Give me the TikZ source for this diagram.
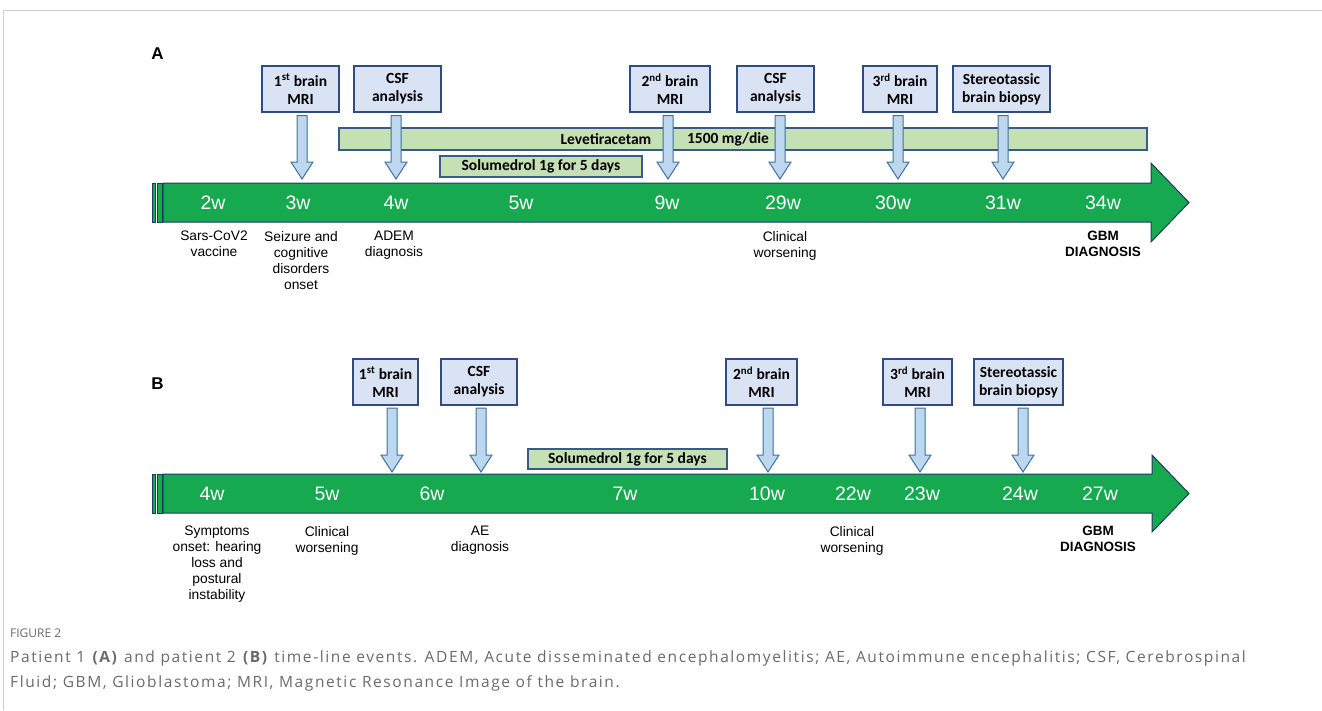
\documentclass[tikz,border=0pt]{standalone}
\usepackage{fontspec}
\setmainfont{Liberation Sans}
\newfontfamily\calfont{Carlito}
\newfontfamily\capfont{Open Sans}
\usetikzlibrary{calc}
\definecolor{tlgreen}{HTML}{17A950}
\definecolor{tlline}{HTML}{203864}
\definecolor{boxfill}{HTML}{DAE3F3}
\definecolor{boxline}{HTML}{2F4B80}
\definecolor{arrfill}{HTML}{BDD7EE}
\definecolor{arrline}{HTML}{41719C}
\definecolor{barfill}{HTML}{C5E0B4}
\definecolor{barline}{HTML}{3A5A8A}
\definecolor{capgrey}{HTML}{6A6A6A}
\definecolor{framegrey}{HTML}{CFCFCF}
\begin{document}
\begin{tikzpicture}[x=1pt,y=-1pt,
  evbox/.style={draw=boxline, fill=boxfill, line width=1.2pt, inner sep=0pt,
    minimum height=46pt, align=center,
    font=\calfont\bfseries\fontsize{15.5}{18}\selectfont},
  drugbar/.style={draw=barline, fill=barfill, line width=1.1pt, inner sep=0pt},
  drugtext/.style={inner sep=0pt, font=\calfont\bfseries\fontsize{15.5}{18}\selectfont},
  wk/.style={text=white, inner sep=0pt, font=\fontsize{19.5}{21}\selectfont},
  ev/.style={anchor=north, align=center, inner sep=0pt, font=\fontsize{13.8}{16}\selectfont},
  evb/.style={ev, font=\bfseries\fontsize{13.5}{16}\selectfont},
  panel/.style={inner sep=0pt, font=\bfseries\fontsize{17}{18}\selectfont},
  timeline/.style={draw=tlline, fill=tlgreen, line width=1pt, line join=miter},
  barrow/.style={draw=arrline, fill=arrfill, line width=1pt, line join=miter},
  blockdown/.style={to path={let \p1=(\tikztostart), \p2=(\tikztotarget) in
    (\x2-5pt,\y1-#1) -- (\x2+5pt,\y1-#1) -- (\x2+5pt,\y2+17pt) -- (\x2+11pt,\y2+17pt)
    -- (\x2,\y2) -- (\x2-11pt,\y2+17pt) -- (\x2-5pt,\y2+17pt) -- cycle}},
  blockdown/.default=3pt
]
\useasboundingbox (0,0) rectangle (1322,710);
% frame
\draw[framegrey, line width=1pt] (3.5,710) -- (3.5,10.5) -- (1322,10.5);

% ================= Panel A =================
\node[panel] (pA) at (157.5,53.5) {A};

% timeline A
\draw[timeline] (152,183) rectangle (155,222);
\draw[timeline] (157.5,183) rectangle (162,222);
\draw[timeline] (163,183) -- (1151,183) -- (1151,163) -- (1189,202.5)
  -- (1151,242) -- (1151,222) -- (163,222) -- cycle;

% drug bars A
\node[drugbar, minimum width=808pt, minimum height=22pt] (levA) at (743,139) {};
\node[drugtext] (levAt) at (606,139) {Levetiracetam};
\node[drugtext] (levAd) at (728,139) {1500 mg/die};
\node[drugbar, minimum width=202pt, minimum height=21pt, drugtext] (solA) at (541,166.5) {Solumedrol 1g for 5 days};

% event boxes A
\node[evbox, minimum width=77pt] (a1) at (300.5,89) {1\textsuperscript{st} brain\\MRI};
\node[evbox, minimum width=87pt] (a2) at (397.5,89) {CSF\\analysis};
\node[evbox, minimum width=80pt] (a3) at (670,89) {2\textsuperscript{nd} brain\\MRI};
\node[evbox, minimum width=77pt] (a4) at (775.5,89) {CSF\\analysis};
\node[evbox, minimum width=74pt] (a5) at (900,89) {3\textsuperscript{rd} brain\\MRI};
\node[evbox, minimum width=97pt] (a6) at (1001.5,89) {Stereotassic\\brain biopsy};

\coordinate (tA1) at (302,179);
\coordinate (tA2) at (396,179);
\coordinate (tA3) at (668,179);
\coordinate (tA4) at (780,179);
\coordinate (tA5) at (898,179);
\coordinate (tA6) at (1003,179);
\draw[barrow] (a1.south) to[blockdown] (tA1);
\draw[barrow] (a2.south) to[blockdown] (tA2);
\draw[barrow] (a3.south) to[blockdown] (tA3);
\draw[barrow] (a4.south) to[blockdown] (tA4);
\draw[barrow] (a5.south) to[blockdown] (tA5);
\draw[barrow] (a6.south) to[blockdown] (tA6);

% weeks A
\node[wk] (wA1) at (213,202.5) {2w};
\node[wk] (wA2) at (298,202.5) {3w};
\node[wk] (wA3) at (396,202.5) {4w};
\node[wk] (wA4) at (521,202.5) {5w};
\node[wk] (wA5) at (667,202.5) {9w};
\node[wk] (wA6) at (783,202.5) {29w};
\node[wk] (wA7) at (893,202.5) {30w};
\node[wk] (wA8) at (1003,202.5) {31w};
\node[wk] (wA9) at (1103,202.5) {34w};

% events A
\node[ev] (eA1) at (214,231) {Sars-CoV2\\vaccine};
\node[ev] (eA2) at (301,231) {Seizure and\\cognitive\\disorders\\onset};
\node[ev] (eA3) at (394,231) {ADEM\\diagnosis};
\node[ev] (eA4) at (785,231) {Clinical\\worsening};
\node[evb] (eA5) at (1103,231) {GBM\\DIAGNOSIS};

% ================= Panel B =================
\node[panel] (pB) at (157.5,384) {B};

\draw[timeline] (152,474) rectangle (155,513);
\draw[timeline] (157.5,474) rectangle (162,513);
\draw[timeline] (163,474) -- (1152,474) -- (1152,455) -- (1189,493.5)
  -- (1152,532) -- (1152,513) -- (163,513) -- cycle;

\node[drugbar, minimum width=199pt, minimum height=20pt, drugtext] (solB) at (627.5,459) {Solumedrol 1g for 5 days};

\node[evbox, minimum width=65pt] (b1) at (385.5,382) {1\textsuperscript{st} brain\\MRI};
\node[evbox, minimum width=76pt] (b2) at (479,382) {CSF\\analysis};
\node[evbox, minimum width=71pt] (b3) at (761.5,382) {2\textsuperscript{nd} brain\\MRI};
\node[evbox, minimum width=69pt] (b4) at (917.5,382) {3\textsuperscript{rd} brain\\MRI};
\node[evbox, minimum width=89pt] (b5) at (1018.5,382) {Stereotassic\\brain biopsy};

\coordinate (tB1) at (392,472);
\coordinate (tB2) at (481,472);
\coordinate (tB3) at (768,472);
\coordinate (tB4) at (920,472);
\coordinate (tB5) at (1023,472);
\draw[barrow] (b1.south) to[blockdown=2.5pt] (tB1);
\draw[barrow] (b2.south) to[blockdown=2.5pt] (tB2);
\draw[barrow] (b3.south) to[blockdown=2.5pt] (tB3);
\draw[barrow] (b4.south) to[blockdown=2.5pt] (tB4);
\draw[barrow] (b5.south) to[blockdown=2.5pt] (tB5);

\node[wk] (wB1) at (212,493.5) {4w};
\node[wk] (wB2) at (327,493.5) {5w};
\node[wk] (wB3) at (432,493.5) {6w};
\node[wk] (wB4) at (625,493.5) {7w};
\node[wk] (wB5) at (767,493.5) {10w};
\node[wk] (wB6) at (853,493.5) {22w};
\node[wk] (wB7) at (922,493.5) {23w};
\node[wk] (wB8) at (1020,493.5) {24w};
\node[wk] (wB9) at (1100,493.5) {27w};

\node[ev] (eB1) at (217,526) {Symptoms\\onset: hearing\\loss and\\postural\\instability};
\node[ev] (eB2) at (327,526) {Clinical\\worsening};
\node[ev] (eB3) at (480,526) {AE\\diagnosis};
\node[ev] (eB4) at (852,526) {Clinical\\worsening};
\node[evb] (eB5) at (1098,526) {GBM\\DIAGNOSIS};

% ================= Caption =================
\node[anchor=base west, inner sep=0pt, text=capgrey, font=\capfont\fontsize{12}{14}\selectfont] (figlab) at (10,637) {FIGURE 2};
\node[anchor=base west, inner sep=0pt, text=capgrey, align=left,
  font=\capfont\fontsize{15.5}{25}\selectfont\addfontfeature{LetterSpace=10.3}] (cap) at (10,687)
  {Patient 1 \textbf{(A)} and patient 2 \textbf{(B)} time-line events. ADEM, Acute disseminated encephalomyelitis; AE, Autoimmune encephalitis; CSF, Cerebrospinal\\Fluid; GBM, Glioblastoma; MRI, Magnetic Resonance Image of the brain.};
\end{tikzpicture}
\end{document}
